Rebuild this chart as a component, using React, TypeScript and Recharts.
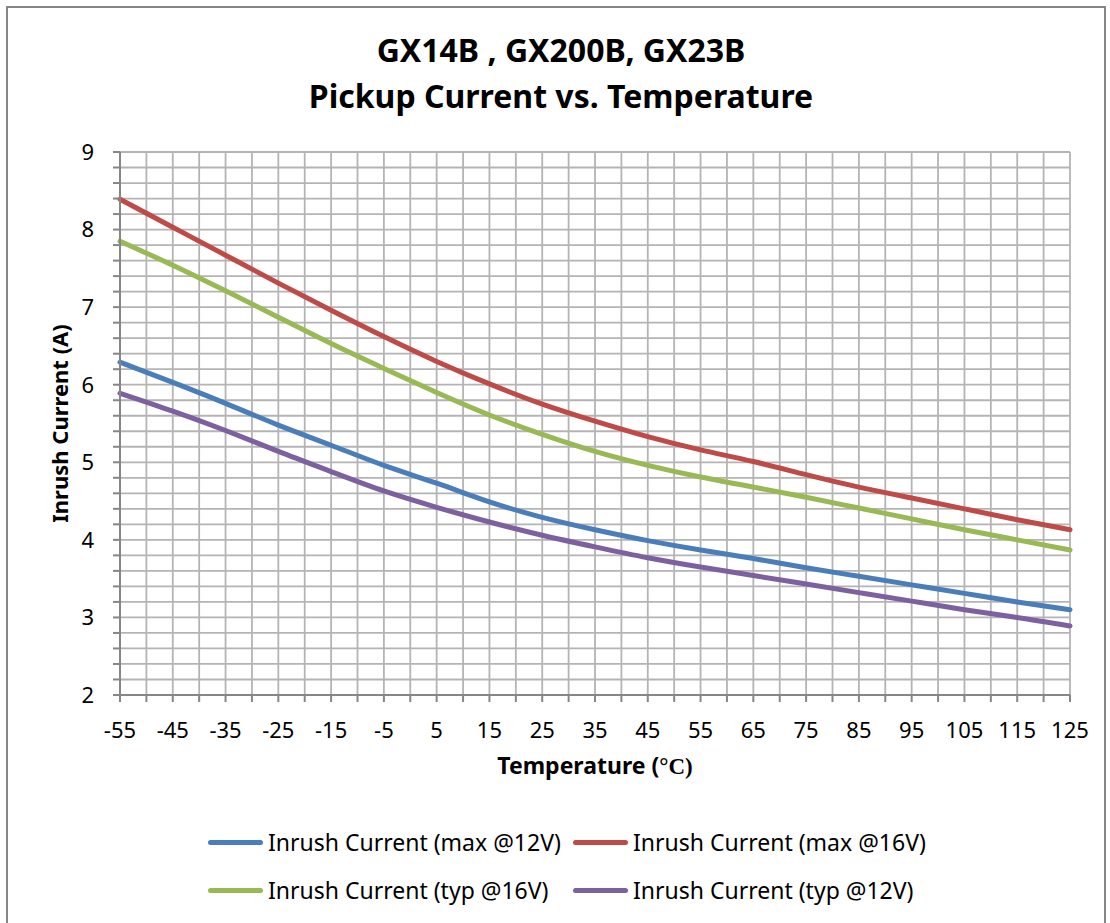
import React from "react";
import {
  LineChart,
  Line,
  XAxis,
  YAxis,
  CartesianGrid,
  Legend,
} from "recharts";

// temperature in °C, every 10 degrees
const temps = [-55, -45, -35, -25, -15, -5, 5, 15, 25, 35, 45, 55, 65, 75, 85, 95, 105, 115, 125];

const maxAt12V = [6.29, 6.03, 5.76, 5.48, 5.22, 4.96, 4.73, 4.49, 4.29, 4.13, 3.99, 3.87, 3.76, 3.64, 3.53, 3.42, 3.31, 3.2, 3.1];
const maxAt16V = [8.39, 8.03, 7.67, 7.31, 6.96, 6.62, 6.3, 6.01, 5.75, 5.53, 5.33, 5.16, 5.01, 4.84, 4.68, 4.54, 4.4, 4.26, 4.13];
const typAt16V = [7.85, 7.54, 7.21, 6.87, 6.53, 6.21, 5.9, 5.61, 5.36, 5.14, 4.96, 4.81, 4.68, 4.55, 4.41, 4.27, 4.13, 4.0, 3.87];
const typAt12V = [5.89, 5.66, 5.41, 5.14, 4.88, 4.63, 4.42, 4.23, 4.06, 3.91, 3.77, 3.65, 3.54, 3.43, 3.32, 3.21, 3.1, 3.0, 2.89];

const seriesNames = [
  "Inrush Current (max @12V)",
  "Inrush Current (max @16V)",
  "Inrush Current (typ @16V)",
  "Inrush Current (typ @12V)",
];

const xTicks = [-55, -50, -45, -40, -35, -30, -25, -20, -15, -10, -5, 0, 5, 10, 15, 20, 25, 30, 35, 40, 45, 50, 55, 60, 65, 70, 75, 80, 85, 90, 95, 100, 105, 110, 115, 120, 125];
const yTicks = [2, 2.2, 2.4, 2.6, 2.8, 3, 3.2, 3.4, 3.6, 3.8, 4, 4.2, 4.4, 4.6, 4.8, 5, 5.2, 5.4, 5.6, 5.8, 6, 6.2, 6.4, 6.6, 6.8, 7, 7.2, 7.4, 7.6, 7.8, 8, 8.2, 8.4, 8.6, 8.8, 9];

const titleLines = ["GX14B , GX200B, GX23B", "Pickup Current vs. Temperature"];

const data = temps.map((t, i) => ({
  t,
  max12: maxAt12V[i],
  max16: maxAt16V[i],
  typ16: typAt16V[i],
  typ12: typAt12V[i],
}));

const FONT = "'Noto Sans', 'Open Sans', sans-serif";
const GRID = "#b4b4b4";
const AXIS = "#868686";
const LINE_W = 5;

const LegendBox = (props: any) => {
  const items = [...(props.payload || [])].sort(
    (a: any, b: any) => seriesNames.indexOf(a.value) - seriesNames.indexOf(b.value)
  );
  return (
    <div style={{ display: "grid", gridTemplateColumns: "365px 365px", fontFamily: FONT, fontSize: 23, color: "#000" }}>
      {items.map((it: any) => (
        <div key={it.value} style={{ display: "flex", alignItems: "center", height: 48, whiteSpace: "nowrap" }}>
          <div style={{ width: 55, height: 5, borderRadius: 3, background: it.color, marginRight: 5 }} />
          <span>{it.value}</span>
        </div>
      ))}
    </div>
  );
};

const YLabel = (props: any) => {
  const vb = props.viewBox || { y: 152, height: 543 };
  const cx = 68;
  const cy = vb.y + vb.height / 2;
  return (
    <text
      x={cx}
      y={cy}
      transform={`rotate(-90, ${cx}, ${cy})`}
      textAnchor="middle"
      fontFamily={FONT}
      fontWeight="bold"
      fontSize={22}
      fill="#000"
    >
      Inrush Current (A)
    </text>
  );
};

const XLabel = (props: any) => {
  const vb = props.viewBox || { x: 120, width: 950 };
  const cx = vb.x + vb.width / 2;
  return (
    <text x={cx} y={774} textAnchor="middle" fontFamily={FONT} fontWeight="bold" fontSize={23} fill="#000">
      Temperature (
      <tspan fontFamily="'Liberation Serif', 'DejaVu Serif', serif" fontWeight="bold">°C)</tspan>
    </text>
  );
};

export default function App() {
  return (
    <div
      style={{
        position: "absolute",
        top: 0,
        left: 0,
        width: 1110,
        height: 923,
        overflow: "hidden",
        background: "#fff",
        fontFamily: FONT,
      }}
    >
      <div
        style={{
          position: "absolute",
          left: 6,
          top: 6,
          width: 1100,
          height: 940,
          border: `2px solid ${AXIS}`,
          boxSizing: "border-box",
        }}
      />
      <div
        style={{
          position: "absolute",
          top: 27,
          left: 0,
          width: 1122,
          textAlign: "center",
          fontWeight: "bold",
          fontSize: 32,
          lineHeight: "46px",
          color: "#000",
        }}
      >
        {titleLines.map((l) => (
          <div key={l}>{l}</div>
        ))}
      </div>
      <LineChart width={1110} height={923} data={data} margin={{ top: 152, right: 40, bottom: 168, left: 0 }}>
        <CartesianGrid stroke={GRID} strokeWidth={1.8} />
        <XAxis
          dataKey="t"
          type="number"
          domain={[-55, 125]}
          ticks={xTicks}
          interval={0}
          tickFormatter={(v: number) => ((v + 55) % 10 === 0 ? String(v) : "")}
          tickSize={7}
          tickMargin={20}
          stroke={AXIS}
          strokeWidth={2}
          tick={{ fill: "#000", fontSize: 22, fontFamily: FONT }}
          height={60}
          label={<XLabel />}
        />
        <YAxis
          type="number"
          domain={[2, 9]}
          ticks={yTicks}
          interval={0}
          tickFormatter={(v: number) => (Math.abs(v - Math.round(v)) < 1e-6 ? String(Math.round(v)) : "")}
          tickSize={7}
          tickMargin={19}
          stroke={AXIS}
          strokeWidth={2}
          width={120}
          tick={{ fill: "#000", fontSize: 22, fontFamily: FONT }}
          label={<YLabel />}
        />
        <Legend
          layout="horizontal"
          verticalAlign="middle"
          align="center"
          content={<LegendBox />}
          wrapperStyle={{ top: 818, left: 208, width: 740 }}
        />
        <Line name={seriesNames[0]} dataKey="max12" type="natural" stroke="#4a7ebb" strokeWidth={LINE_W} strokeLinecap="round" dot={false} isAnimationActive={false} />
        <Line name={seriesNames[1]} dataKey="max16" type="natural" stroke="#be4b48" strokeWidth={LINE_W} strokeLinecap="round" dot={false} isAnimationActive={false} />
        <Line name={seriesNames[2]} dataKey="typ16" type="natural" stroke="#98b954" strokeWidth={LINE_W} strokeLinecap="round" dot={false} isAnimationActive={false} />
        <Line name={seriesNames[3]} dataKey="typ12" type="natural" stroke="#7d60a0" strokeWidth={LINE_W} strokeLinecap="round" dot={false} isAnimationActive={false} />
      </LineChart>
    </div>
  );
}
